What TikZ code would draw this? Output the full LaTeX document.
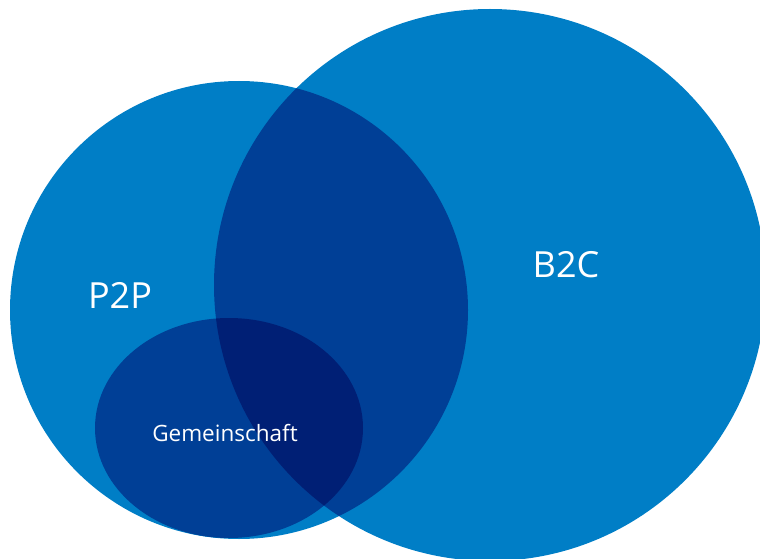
\documentclass[tikz,border=0pt]{standalone}
\usepackage{fontspec}
\setmainfont{Open Sans}
\definecolor{lightblue}{RGB}{0,126,198}
\definecolor{midblue}{RGB}{0,63,150}
\definecolor{darkblue}{RGB}{0,31,117}
\tikzset{
  lbl/.style={text=white, inner sep=0pt},
}
\begin{document}
\begin{tikzpicture}[x=1pt,y=-1pt]
\useasboundingbox (0,0) rectangle (760,559);
\clip (0,0) rectangle (760,559);
\coordinate (p2pc) at (239,310);
\coordinate (b2cc) at (490,285);
\coordinate (gemc) at (229,428);
% base shapes
\fill[lightblue] (p2pc) circle[radius=229pt];
\fill[lightblue] (b2cc) circle[radius=276pt];
\fill[lightblue] (gemc) ellipse[x radius=134pt, y radius=110pt];
% overlaps with P2P
\begin{scope}
  \clip (p2pc) circle[radius=229pt];
  \fill[midblue] (b2cc) circle[radius=276pt];
  \fill[midblue] (gemc) ellipse[x radius=134pt, y radius=110pt];
  \clip (b2cc) circle[radius=276pt];
  \fill[darkblue] (gemc) ellipse[x radius=134pt, y radius=110pt];
\end{scope}
\node[lbl, font=\fontsize{36}{42}\selectfont] (p2p) at (120,295) {P2P};
\node[lbl, font=\fontsize{36}{42}\selectfont] (b2c) at (566,265) {B2C};
\node[lbl, font=\fontsize{22.5}{27}\selectfont] (gem) at (225,433) {Gemeinschaft};
\end{tikzpicture}
\end{document}
